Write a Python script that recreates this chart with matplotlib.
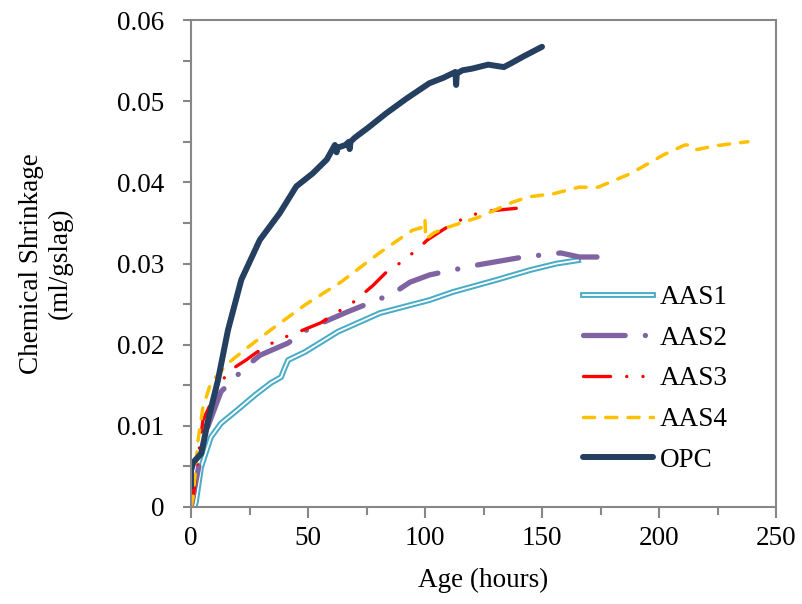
import matplotlib
matplotlib.use('Agg')
import matplotlib.pyplot as plt
import matplotlib.patheffects as pe
from matplotlib.ticker import MultipleLocator, FuncFormatter

plt.rcParams['font.family'] = ['Liberation Serif', 'DejaVu Serif']
plt.rcParams['lines.scale_dashes'] = False

#  Data (age in h, shrinkage in ml/gslag)
aas1_x = [1.5, 2.1, 4.3, 8.5, 12.8, 20, 27.4, 34.2, 38.5, 40, 41.5, 48.7,
          55.5, 62.8, 80.8, 102, 112, 130.8, 145, 156.4, 165.4]
aas1_y = [0, 0.0006, 0.0049, 0.0086, 0.0103, 0.012, 0.0138, 0.0153, 0.016,
          0.0171, 0.0181, 0.0191, 0.0203, 0.0216, 0.0239, 0.0255, 0.0265,
          0.028, 0.0292, 0.03, 0.0304]

aas2_x = [0, 2, 6, 12.8, 23.5, 29.5, 41.5, 47.9, 58.5, 66.5, 79.5, 86.3,
          93.6, 102, 122, 142, 158, 166, 173.5]
aas2_y = [0, 0.003, 0.009, 0.0142, 0.0173, 0.0187, 0.0202, 0.0216, 0.023,
          0.024, 0.0255, 0.0263, 0.0277, 0.0286, 0.0298, 0.0308, 0.0313,
          0.0308, 0.0308]

aas3_x = [0, 0.9, 5.1, 12.8, 17, 23.5, 27.8, 37, 44.5, 55.5, 62.4, 68, 77.8,
          83, 87.2, 96.6, 101, 109, 117.5, 125, 139]
aas3_y = [0, 0.0013, 0.0107, 0.0154, 0.0169, 0.0181, 0.019, 0.0206, 0.0214,
          0.0227, 0.024, 0.0249, 0.0273, 0.0288, 0.0296, 0.0317, 0.0329,
          0.0344, 0.0357, 0.0364, 0.0368]

aas4_x = [0, 0.9, 3, 5.1, 8.5, 15.8, 24.4, 34, 48.7, 64, 80.5, 94.6, 99.5,
          100, 100.3, 104, 109, 123, 137, 144, 155, 165.7, 174, 188, 202,
          211, 213, 215.5, 224, 238]
aas4_y = [0, 0.0012, 0.0082, 0.0123, 0.0153, 0.0177, 0.0197, 0.0218, 0.0249,
          0.0277, 0.0313, 0.0341, 0.0345, 0.0354, 0.0330, 0.0338, 0.0344,
          0.0357, 0.0375, 0.0382, 0.0386, 0.0394, 0.0394, 0.0411, 0.0434,
          0.0446, 0.0446, 0.0440, 0.0445, 0.0450]

opc_x = [0, 0, 1, 4.4, 7.3, 11.5, 15.8, 21.5, 29.4, 37.9, 45, 52, 58, 61.5,
         62.2, 62.6, 64, 66, 67.5, 67.8, 68.2, 70, 76, 83.4, 92, 101.8, 108,
         113, 113.3, 113.6, 116, 120, 127, 133.7, 137, 142, 150]
opc_y = [0.0025, 0.0045, 0.0055, 0.0066, 0.0107, 0.0156, 0.0218, 0.028,
         0.0329, 0.0362, 0.0395, 0.0411, 0.0428, 0.0446, 0.0437, 0.0443,
         0.0444, 0.0446, 0.0450, 0.0441, 0.0450, 0.0455, 0.0468, 0.0485,
         0.0503, 0.0522, 0.0529, 0.0536, 0.0520, 0.0534, 0.0538, 0.0540,
         0.0545, 0.0542, 0.0547, 0.0555, 0.0567]

fig = plt.figure(figsize=(8.02, 6.04), dpi=100)
ax = fig.add_axes([191 / 802, 1 - 507 / 604, 585 / 802, 487 / 604])

#  AAS1 is a double line: blue outline, white core
ax.plot(aas1_x, aas1_y, color='white', lw=1.3, label='AAS1',
        path_effects=[pe.Stroke(linewidth=4.2, foreground='#4BACC6'),
                      pe.Normal()])
ax.plot(aas2_x, aas2_y, color='#8064A2', lw=3.8, label='AAS2',
        dashes=(30, 14.5, 0.1, 14.5), dash_capstyle='round')
ax.plot(aas3_x, aas3_y, color='#FF0000', lw=2.4, label='AAS3',
        dashes=(19.5, 11.6, 0.1, 11.6, 0.1, 11.6), dash_capstyle='round')
ax.plot(aas4_x, aas4_y, color='#FFC000', lw=2.5, label='AAS4',
        dashes=(8, 8), dash_capstyle='round')
ax.plot(opc_x, opc_y, color='#243F60', lw=4.3, label='OPC',
        solid_capstyle='round')

ax.set_xlim(0, 250)
ax.set_ylim(0, 0.06)
ax.xaxis.set_major_locator(MultipleLocator(50))
ax.xaxis.set_minor_locator(MultipleLocator(25))
ax.yaxis.set_major_locator(MultipleLocator(0.01))
ax.yaxis.set_minor_locator(MultipleLocator(0.005))
ax.yaxis.set_major_formatter(
    FuncFormatter(lambda v, p: '0' if abs(v) < 1e-9 else '%.2f' % v))

grey = '#878787'
for s in ax.spines.values():
    s.set_color(grey)
    s.set_linewidth(1.5)
ax.tick_params(which='both', direction='out', color=grey, width=1.5,
               length=6, labelsize=19.5, top=False, right=False)
ax.tick_params(axis='y', which='both', pad=13)
ax.tick_params(axis='x', which='both', pad=6)
ax.tick_params(axis='x', which='major', length=8)

ax.set_xlabel('Age (hours)', fontsize=19.5, labelpad=12)
ax.set_ylabel('Chemical Shrinkage\n(ml/gslag)', fontsize=19.5, labelpad=32,
              linespacing=1.2)

ax.legend(loc='center left', bbox_to_anchor=(0.67, 0.263), frameon=False,
          fontsize=19.5, handlelength=2.6, handletextpad=0.25,
          labelspacing=0.58, borderpad=0, borderaxespad=0)

fig.savefig('out.png', dpi=100)
